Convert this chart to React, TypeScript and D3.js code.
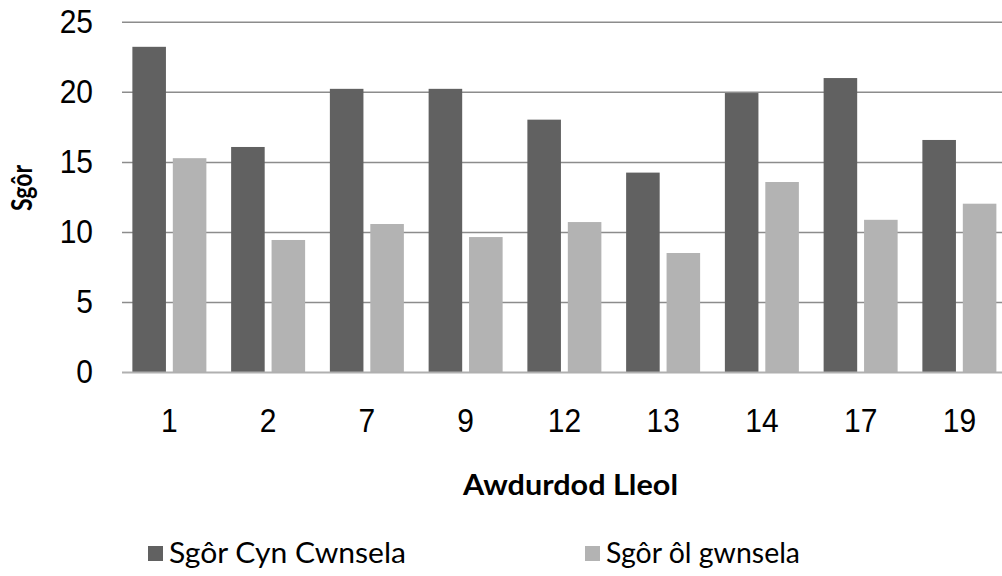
import React from "react";
import * as d3 from "d3";

const categories = ["1", "2", "7", "9", "12", "13", "14", "17", "19"];
const seriesNames = ["Sgôr Cyn Cwnsela", "Sgôr ôl gwnsela"];
const beforeValues = [23.25, 16.1, 20.25, 20.25, 18.05, 14.27, 19.95, 21.02, 16.6];
const afterValues = [15.3, 9.46, 10.6, 9.67, 10.74, 8.53, 13.6, 10.9, 12.05];
const yTicks = [0, 5, 10, 15, 20, 25];
const colors = ["#616161", "#b3b3b3"];

export default function App() {
  const W = 1002;
  const H = 576;
  const left = 120;
  const right = 1008.75;
  const top = 22.3;
  const bottom = 372.5;

  const x = d3.scaleBand<string>().domain(categories).range([left, right]).padding(0);
  const inner = d3.scaleBand<number>().domain([0, 1]).range([0, 74]).paddingInner(0.17).paddingOuter(0);
  const y = d3.scaleLinear().domain([0, 25]).range([bottom, top]);
  const series = [beforeValues, afterValues];

  const tickFont = "'Liberation Sans', Arial, sans-serif";
  const titleFont = "Lato, 'Open Sans', sans-serif";
  const legendWidths = [237, 194];

  return (
    <svg width={W} height={H} style={{ position: "absolute", left: 0, top: 0, background: "#fff" }}>
      <rect x={0} y={0} width={W} height={H} fill="#fff" />
      {yTicks.filter((t) => t > 0).map((t) => (
        <line key={t} x1={left + 2} x2={W} y1={y(t)} y2={y(t)} stroke="#8c8c8c" strokeWidth={1.5} />
      ))}
      {series.map((vals, si) =>
        categories.map((c, ci) => {
          const bx = (x(c) as number) + (x.bandwidth() - 74) / 2 + (inner(si) as number);
          return (
            <rect key={`${si}-${ci}`} x={bx} y={y(vals[ci])} width={inner.bandwidth()} height={y(0) - y(vals[ci])} fill={colors[si]} />
          );
        })
      )}
      <line x1={left + 2} x2={W} y1={y(0)} y2={y(0)} stroke="#b0b0b0" strokeWidth={2} />
      {yTicks.map((t) => (
        <text key={t} transform={`translate(93,${y(t)}) scale(1,1.09)`} textAnchor="end" dominantBaseline="central" fontFamily={tickFont} fontSize={30}>
          {t}
        </text>
      ))}
      {categories.map((c) => (
        <text key={c} transform={`translate(${(x(c) as number) + x.bandwidth() / 2},421) scale(1,1.09)`} textAnchor="middle" dominantBaseline="central" fontFamily={tickFont} fontSize={30}>
          {c}
        </text>
      ))}
      <text transform={`translate(21,188) rotate(-90)`} textAnchor="middle" dominantBaseline="central" fontFamily={titleFont} fontWeight="bold" fontSize={28} textLength={46} lengthAdjust="spacingAndGlyphs">
        Sgôr
      </text>
      <text x={570.5} y={484} textAnchor="middle" dominantBaseline="central" fontFamily={titleFont} fontWeight="bold" fontSize={28} textLength={215} lengthAdjust="spacingAndGlyphs">
        Awdurdod Lleol
      </text>
      {seriesNames.map((n, i) => {
        const lx = i === 0 ? 148 : 585;
        return (
          <g key={n}>
            <rect x={lx} y={546} width={15} height={15} fill={colors[i]} />
            <text x={lx + 21} y={552} dominantBaseline="central" fontFamily={titleFont} fontSize={28} textLength={legendWidths[i]} lengthAdjust="spacingAndGlyphs">
              {n}
            </text>
          </g>
        );
      })}
    </svg>
  );
}
